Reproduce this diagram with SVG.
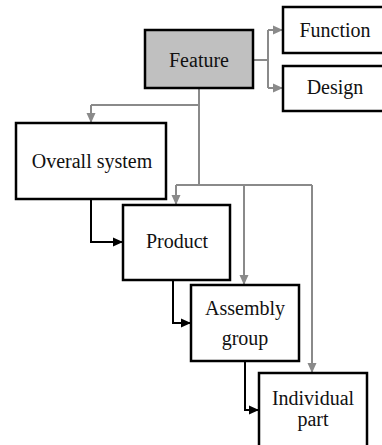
<svg xmlns="http://www.w3.org/2000/svg" width="382" height="445" viewBox="0 0 382 445">
<style>
.box{fill:#fff;stroke:#000;stroke-width:2.5}
.grey{fill:#c0c0c0}
.t{font-family:"Liberation Serif","Times New Roman",serif;font-size:20px;fill:#111;text-anchor:middle}
.g{fill:none;stroke:#8a8a8a;stroke-width:2}
.k{fill:none;stroke:#000;stroke-width:2}
</style>
<defs>
<marker id="ag" markerUnits="userSpaceOnUse" markerWidth="10" markerHeight="10" viewBox="0 0 10 10" refX="10" refY="5" orient="auto"><path d="M0,0.5 L10,5 L0,9.5 z" fill="#8a8a8a"/></marker>
<marker id="ak" markerUnits="userSpaceOnUse" markerWidth="10" markerHeight="10" viewBox="0 0 10 10" refX="10" refY="5" orient="auto"><path d="M0,0.5 L10,5 L0,9.5 z" fill="#000"/></marker>
</defs>
<g id="connectors">
<path class="g" d="M253,60 H268 M268,30 V88"/>
<path class="g" d="M268,30 H283" marker-end="url(#ag)"/>
<path class="g" d="M268,88 H283" marker-end="url(#ag)"/>
<path class="g" d="M199,88 V185 M199,105 H91"/>
<path class="g" d="M91,105 V123" marker-end="url(#ag)"/>
<path class="g" d="M176,185 H312"/>
<path class="g" d="M176,185 V205" marker-end="url(#ag)"/>
<path class="g" d="M244,185 V285" marker-end="url(#ag)"/>
<path class="g" d="M312,185 V373" marker-end="url(#ag)"/>
<path class="k" d="M91,199 V242 H123" marker-end="url(#ak)"/>
<path class="k" d="M173,280 V323 H191" marker-end="url(#ak)"/>
<path class="k" d="M245,361 V410 H259" marker-end="url(#ak)"/>
</g>
<g id="feature"><rect class="box grey" x="145" y="30" width="108" height="58"/><text class="t" x="199" y="67">Feature</text></g>
<g id="function"><rect class="box" x="283" y="7" width="110" height="46"/><text class="t" x="335" y="37">Function</text></g>
<g id="design"><rect class="box" x="283" y="66" width="110" height="45"/><text class="t" x="335" y="94">Design</text></g>
<g id="overall"><rect class="box" x="16" y="123" width="150" height="76"/><text class="t" x="92" y="168">Overall system</text></g>
<g id="product"><rect class="box" x="123" y="205" width="107" height="75"/><text class="t" x="177" y="248">Product</text></g>
<g id="assembly"><rect class="box" x="191" y="285" width="108" height="76"/><text class="t" x="245" y="315">Assembly</text><text class="t" x="245" y="345">group</text></g>
<g id="individual"><rect class="box" x="259" y="373" width="108" height="80"/><text class="t" x="313" y="405">Individual</text><text class="t" x="313" y="426">part</text></g>
</svg>
